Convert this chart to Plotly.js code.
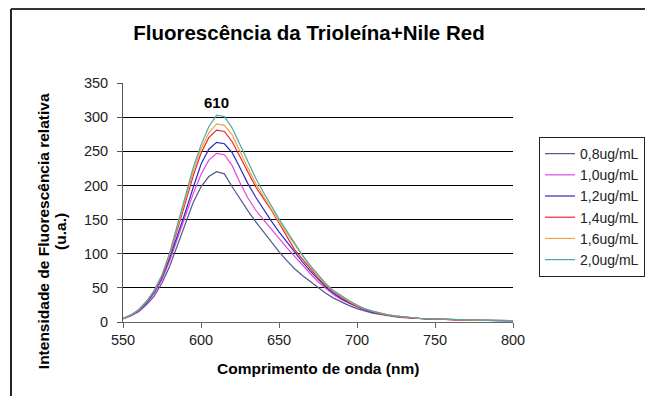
<!DOCTYPE html>
<html>
<head>
<meta charset="utf-8">
<script src="https://cdn.plot.ly/plotly-3.0.1.min.js"></script>
<style>
  html, body { margin: 0; padding: 0; background: #fff; }
  #chart { width: 645px; height: 396px; }
</style>
</head>
<body>
<div id="chart"></div>
<script>
// Emission wavelengths (nm)
const wavelengths = [550,555,560,565,570,575,580,585,590,595,600,605,610,615,620,625,630,635,640,645,650,655,660,665,670,675,680,685,690,695,700,705,710,715,720,725,730,735,740,745,750,755,760,765,770,775,780,785,790,795,800];

// Relative fluorescence intensity (u.a.) per Nile Red concentration
const conc08 = [5,9,15,25,38,57,82,112,143,175,198,213,220,217,198,180,163,147,132,117,103,90,78,68,59,50,42,35,29,24,19.5,16,13,11,9,7.6,6.5,5.6,5,4.4,4,3.6,3.3,3,2.8,2.6,2.4,2.2,2,1.9,1.8];
const conc10 = [5,9,16,27,42,62,90,122,154,188,216,237,247,245,229,204,182,164,150,136,122,109,96,83,71,59,49,40,33,27,22,17.5,14,11.5,9.5,8,6.8,5.8,5.1,4.5,4,3.6,3.3,3,2.8,2.6,2.4,2.2,2,1.9,1.8];
const conc12 = [5,10,17,28,44,65,94,127,161,197,231,253,263,261,248,226,203,183,165,148,132,117,102,88,75,63,51,42,34,28,22.5,18,14.5,12,10,8.2,7,6,5.2,4.6,4.1,3.7,3.4,3.1,2.9,2.7,2.5,2.3,2.1,2,1.9];
const conc14 = [5,10,17,29,45,67,98,135,175,214,247,270,281,279,264,242,219,198,181,164,145,126,106,92,78,65,53,44,36,29,23,18.5,15,12.2,10,8.4,7.1,6.1,5.3,4.7,4.2,3.8,3.4,3.1,2.9,2.7,2.5,2.3,2.1,2,1.9];
const conc16 = [5,10,18,30,46,68,100,139,180,220,253,277,290,288,274,249,226,203,184,166,147,130,114,97,81,67,55,45,37,30,24,19,15.5,12.5,10.3,8.6,7.3,6.2,5.4,4.8,4.3,3.9,3.5,3.2,3,2.8,2.6,2.4,2.2,2.1,2];
const conc20 = [5,10,18,30,46,69,102,142,185,226,259,286,303,301,284,259,234,211,190,170,151,133,115,98,83,69,56,46,38,31,25,19.5,16,13,10.6,8.8,7.4,6.3,5.5,4.9,4.4,4,3.6,3.3,3.1,2.9,2.7,2.5,2.3,2.2,2.1];

const seriesNames = ["0,8ug/mL","1,0ug/mL","1,2ug/mL","1,4ug/mL","1,6ug/mL","2,0ug/mL"];
const seriesValues = [conc08, conc10, conc12, conc14, conc16, conc20];
const seriesColors = ["#55558f","#e544e5","#2b2bc4","#e4282c","#f6a246","#4ea6a6"];

const peakWavelength = 610;
const peakLabelY = 322;

const traces = seriesValues.map((vals, i) => ({
  type: "scatter",
  mode: "lines",
  x: wavelengths,
  y: vals,
  name: seriesNames[i],
  line: { color: seriesColors[i], width: 1.2 }
}));

const FAMILY = "Arial, Liberation Sans, sans-serif";
const axisFont = { family: FAMILY, size: 14.5, color: "#222" };
const boldFont = { family: FAMILY, size: 15.5, color: "#000", weight: "bold" };

const layout = {
  width: 645,
  height: 396,
  margin: { l: 123, r: 132, t: 83, b: 74, autoexpand: false },
  paper_bgcolor: "#fff",
  plot_bgcolor: "#fff",
  showlegend: true,
  title: {
    text: "<b>Fluorescência da Trioleína+Nile Red</b>",
    font: { family: FAMILY, size: 20.5, color: "#000" },
    xref: "container", yref: "container",
    x: 0.479, y: 0.917, xanchor: "center", yanchor: "middle"
  },
  xaxis: {
    range: [550, 800],
    tick0: 550, dtick: 50,
    showgrid: false,
    zeroline: false,
    showline: true, linecolor: "#666", linewidth: 1,
    ticks: "outside", ticklen: 5, tickcolor: "#666",
    tickfont: axisFont
  },
  yaxis: {
    range: [0, 350],
    tick0: 0, dtick: 50,
    showgrid: true, gridcolor: "#000", gridwidth: 1,
    zeroline: false,
    showline: true, linecolor: "#555", linewidth: 1,
    ticks: "outside", ticklen: 5, tickcolor: "#555",
    ticklabelstandoff: 6,
    tickfont: axisFont
  },
  legend: {
    x: 1.0667, y: 0.774, xanchor: "left", yanchor: "top",
    bordercolor: "#222", borderwidth: 1,
    bgcolor: "#fff",
    itemwidth: 30,
    font: { family: FAMILY, size: 14, color: "#222" }
  },
  annotations: [
    {
      text: "Intensidade de Fluorescência relativa",
      xref: "paper", yref: "paper",
      x: -0.202, y: 0.381, xanchor: "center", yanchor: "middle",
      textangle: -90, showarrow: false, font: boldFont
    },
    {
      text: "(u.a.)",
      xref: "paper", yref: "paper",
      x: -0.159, y: 0.381, xanchor: "center", yanchor: "middle",
      textangle: -90, showarrow: false, font: boldFont
    },
    {
      text: "Comprimento de onda (nm)",
      xref: "paper", yref: "paper",
      x: 0.5, y: -0.1925, xanchor: "center", yanchor: "middle",
      showarrow: false, font: boldFont
    },
    {
      text: String(peakWavelength),
      x: peakWavelength, y: peakLabelY,
      xanchor: "center", yanchor: "middle",
      showarrow: false, font: { family: FAMILY, size: 15, color: "#000", weight: "bold" }
    }
  ],
  shapes: [
    // outer chart frame (top and left edges)
    { type: "line", xref: "paper", yref: "paper", x0: -0.2872, x1: -0.2872, y0: -0.5, y1: 1.3096,
      line: { color: "#222", width: 2 } },
    { type: "line", xref: "paper", yref: "paper", x0: -0.2872, x1: 1.6, y0: 1.3096, y1: 1.3096,
      line: { color: "#333", width: 2 } }
  ]
};

Plotly.newPlot("chart", traces, layout, { displayModeBar: false, staticPlot: true });
</script>
</body>
</html>
